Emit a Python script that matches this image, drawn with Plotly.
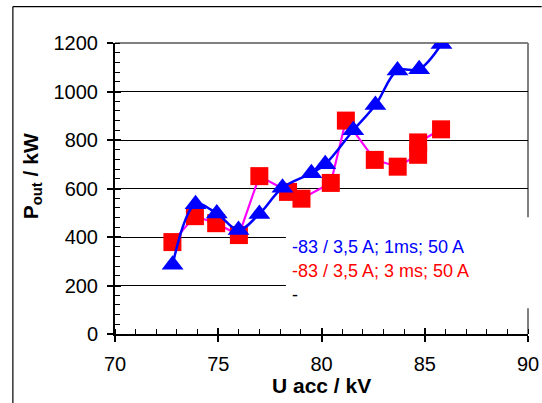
import plotly.graph_objects as go

# ---- data ----
u_blue = [72.79, 73.90, 74.93, 75.98, 76.99, 78.11, 79.51, 80.18, 81.54, 82.61, 83.68, 84.73, 85.81]
p_blue = [286, 535, 497, 429, 495, 603, 663, 700, 840, 944, 1087, 1092, 1196]
u_red = [72.78, 73.87, 74.90, 76.00, 76.99, 78.38, 79.03, 80.45, 81.18, 82.58, 83.69, 84.68, 84.68, 85.79]
p_red = [379, 486, 457, 408, 651, 586, 558, 623, 880, 718, 690, 739, 790, 844]
series_names = ["-83 / 3,5 A; 1ms; 50 A", "-83 / 3,5 A; 3 ms; 50 A", "-"]
series_colors = ["#0000FF", "#FF0000", "#000000"]
x_ticks = [70, 75, 80, 85, 90]
y_ticks = [0, 200, 400, 600, 800, 1000, 1200]
x_title = "<b>U acc / kV</b>"
y_title = "<b>P<sub>out</sub> / kW</b>"

FONT = "Arial, Liberation Sans, sans-serif"

# plot-area geometry (pixels)
W, H = 542, 403
L, R, T, B = 115, 528.3, 42.7, 333.7
PW, PH = R - L, B - T


def px_x(px):
    return (px - L) / PW


def px_y(py):
    return (B - py) / PH


fig = go.Figure()
fig.add_trace(go.Scatter(
    x=u_red, y=p_red, mode="lines+markers", name=series_names[1],
    line=dict(color="#FF00FF", width=2.2),
    marker=dict(symbol="square", size=18, color="#FF0000"),
    showlegend=False))
fig.add_trace(go.Scatter(
    x=u_blue, y=p_blue, mode="lines+markers", name=series_names[0],
    line=dict(color="#0000FF", width=2.5, shape="spline", smoothing=1.0),
    marker=dict(symbol="triangle-up", size=19, color="#0000FF"),
    showlegend=False))
# helper trace so the overlay axes (crossing major ticks) get drawn
fig.add_trace(go.Scatter(x=[x_ticks[0]], y=[y_ticks[0]], xaxis="x2", yaxis="y2",
                         mode="markers", marker=dict(opacity=0), showlegend=False,
                         hoverinfo="skip"))

fig.update_layout(
    width=W, height=H,
    margin=dict(l=L, r=W - R, t=T, b=H - B, pad=0, autoexpand=False),
    paper_bgcolor="white", plot_bgcolor="white",
    font=dict(family=FONT, size=20, color="black"),
    showlegend=False,
    xaxis=dict(range=[70, 90], tickvals=x_ticks, ticks="outside", ticklen=6,
               tickwidth=1.5, tickcolor="black", showgrid=False, zeroline=False,
               showline=True, linecolor="black", linewidth=2, automargin=False,
               minor=dict(dtick=1, ticks="inside", ticklen=5, tickwidth=1,
                          tickcolor="black", showgrid=False),
               tickfont=dict(size=20, family=FONT), ticklabelstandoff=5),
    yaxis=dict(range=[0, 1200], tickvals=y_ticks, ticks="outside", ticklen=6,
               tickwidth=1.5, tickcolor="black", showgrid=True, gridcolor="black",
               gridwidth=1, zeroline=False, showline=True, linecolor="black",
               linewidth=2, automargin=False,
               minor=dict(dtick=40, ticks="inside", ticklen=5, tickwidth=1,
                          tickcolor="black", showgrid=False),
               tickfont=dict(size=20, family=FONT), ticklabelstandoff=5),
    xaxis2=dict(overlaying="x", range=[70, 90], tickvals=x_ticks, ticks="inside",
                ticklen=6, tickwidth=1.5, tickcolor="black", showticklabels=False,
                showgrid=False, zeroline=False, showline=False, side="bottom",
                automargin=False),
    yaxis2=dict(overlaying="y", range=[0, 1200], tickvals=y_ticks, ticks="inside",
                ticklen=6, tickwidth=1.5, tickcolor="black", showticklabels=False,
                showgrid=False, zeroline=False, showline=False, side="left",
                automargin=False),
)

shapes = [
    # plot-area border (top and right, gray)
    dict(type="line", xref="paper", yref="paper", x0=0, x1=1, y0=1, y1=1,
         line=dict(color="#808080", width=2), layer="between"),
    dict(type="line", xref="paper", yref="paper", x0=1, x1=1, y0=0, y1=1,
         line=dict(color="#808080", width=2), layer="between"),
    # legend box (white, covers grid and border)
    dict(type="rect", xref="paper", yref="paper", x0=px_x(286), x1=px_x(541),
         y0=px_y(308), y1=px_y(217), fillcolor="white", line=dict(width=0),
         layer="above"),
    # chart-area outer border (left and top)
    dict(type="line", xref="paper", yref="paper", x0=px_x(12.8), x1=px_x(542),
         y0=px_y(6.3), y1=px_y(6.3), line=dict(color="black", width=1.2), layer="above"),
    dict(type="line", xref="paper", yref="paper", x0=px_x(12.8), x1=px_x(12.8),
         y0=px_y(6.3), y1=px_y(403), line=dict(color="black", width=1.2), layer="above"),
]
fig.update_layout(shapes=shapes)

annotations = [
    dict(text=x_title, xref="paper", yref="paper", x=px_x(321.7), y=px_y(385.6),
         xanchor="center", yanchor="middle", showarrow=False,
         font=dict(size=21, family=FONT, color="black")),
    dict(text=y_title, xref="paper", yref="paper", x=px_x(31.8), y=px_y(176),
         xanchor="center", yanchor="middle", showarrow=False, textangle=-90,
         font=dict(size=21, family=FONT, color="black")),
]
legend_y = [246.7, 270.7, 295]
for name, col, ly in zip(series_names, series_colors, legend_y):
    annotations.append(dict(text=name, xref="paper", yref="paper", x=px_x(290),
                            y=px_y(ly), xanchor="left", yanchor="middle",
                            showarrow=False,
                            font=dict(size=18, family=FONT, color=col)))
fig.update_layout(annotations=annotations)

fig.write_html("out.html", config={"displayModeBar": False},
               post_script="document.body.style.margin='0';document.body.style.overflow='hidden';")
